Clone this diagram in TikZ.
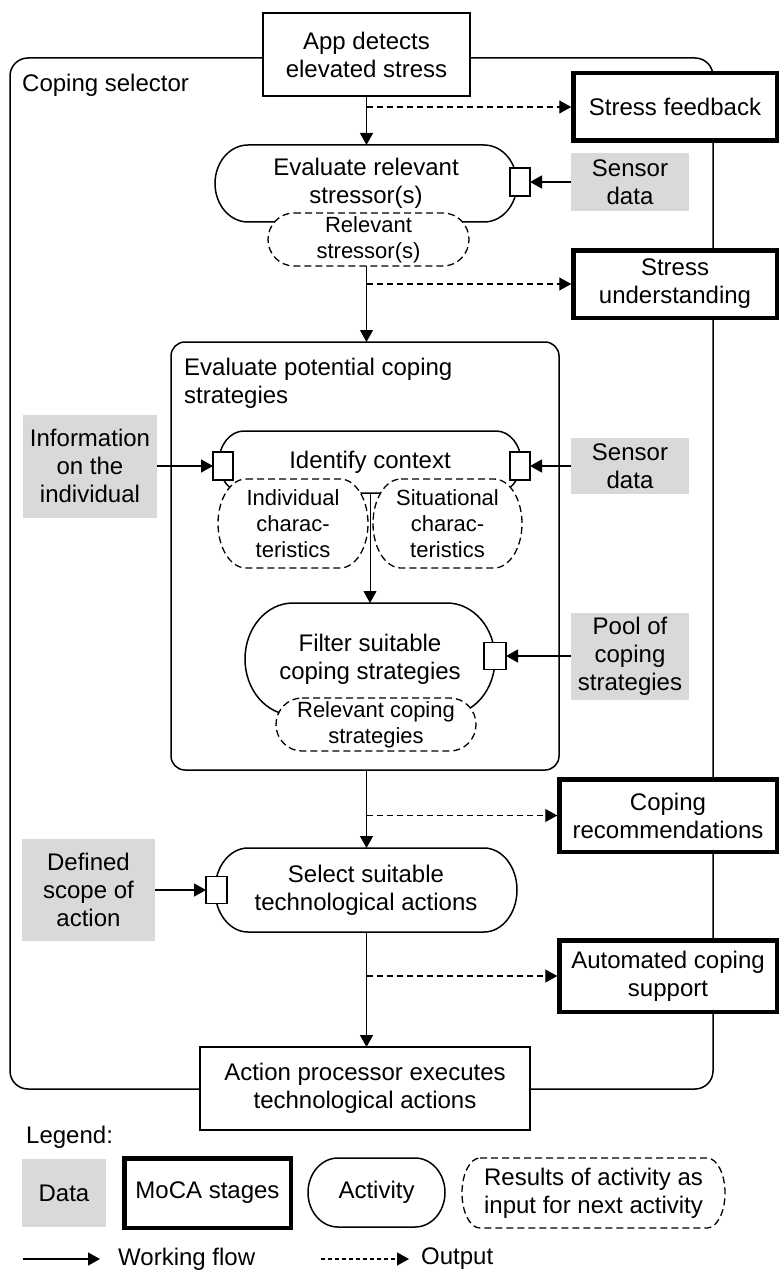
\documentclass[tikz,border=0pt]{standalone}
\usepackage{fontspec}
\setmainfont{Liberation Sans}
\usetikzlibrary{arrows.meta}
\definecolor{datagray}{RGB}{217,217,217}
\pgfdeclarelayer{background}
\pgfsetlayers{background,main}

% outline with half-elliptic ends around a named node:
% [style]{node}{end x radius}{end y radius}
\newcommand\capsule[4][]{%
  \path[#1] ([xshift=#3]#2.north west) -- ([xshift=-#3]#2.north east)
    arc[start angle=90,end angle=-90,x radius=#3,y radius=#4]
    -- ([xshift=#3]#2.south west)
    arc[start angle=270,end angle=90,x radius=#3,y radius=#4] -- cycle;}

\begin{document}
\begin{tikzpicture}[x=1pt,y=-1pt,
  txt/.style={font=\fontsize{24}{28}\selectfont, align=center, text=black},
  smalltxt/.style={font=\fontsize{22}{26}\selectfont, align=center, text=black},
  stagebox/.style={txt, draw, line width=1.5pt, fill=white, inner sep=0pt, outer sep=0pt},
  mocabox/.style={txt, draw, line width=4.5pt, fill=white, inner sep=0pt, outer sep=0pt},
  databox/.style={txt, fill=datagray, inner sep=0pt, outer sep=0pt},
  shapenode/.style={txt, inner sep=0pt, outer sep=0pt},
  resultnode/.style={smalltxt, inner sep=0pt, outer sep=0pt},
  pinbox/.style={draw, fill=white, line width=1.3pt, inner sep=0pt, outer sep=0pt,
    minimum width=20pt, minimum height=28pt},
  activityline/.style={draw, line width=1.5pt, fill=white},
  resultline/.style={draw, line width=1.3pt, fill=white, dash pattern=on 7pt off 4pt},
  flowarrow/.style={line width=1.3pt, -{Triangle[length=12pt,width=13pt]}},
  outarrow/.style={line width=1.3pt, dash pattern=on 6pt off 4pt, shorten >=2pt,
    -{Triangle[length=12pt,width=13pt]}},
  thinarrow/.style={line width=0.8pt, -{Triangle[length=12pt,width=13pt]}},
]
\useasboundingbox (0,0) rectangle (779,1273);

% coping selector frame
\begin{pgfonlayer}{background}
  \node[draw, line width=1.5pt, rounded corners=18pt, minimum width=703pt,
    minimum height=1031pt, inner sep=0pt, outer sep=0pt] (selector) at (361.5,573.5) {};
\end{pgfonlayer}
\node[txt, anchor=west, inner sep=0pt] (selectorlabel) at (22,85) {Coping selector};

% stress detection and evaluation
\node[stagebox, minimum width=207pt, minimum height=83pt] (app) at (366.5,54.5) {App detects\\elevated stress};
\node[mocabox, minimum width=203.5pt, minimum height=67.5pt] (feedback) at (675,107) {Stress feedback};
\node[shapenode, minimum width=302pt, minimum height=77pt] (evalrel) at (366,183.5) {Evaluate relevant\\stressor(s)};
\node[pinbox] (pinA) at (520,182) {};
\node[databox, minimum width=118pt, minimum height=58pt] (sensorA) at (630,182) {Sensor\\data};
\node[resultnode, minimum width=201pt, minimum height=53pt] (relstress) at (368.5,239.5) {Relevant\\stressor(s)};
\node[mocabox, minimum width=203.5pt, minimum height=67.5pt] (understanding) at (675,284) {Stress\\understanding};

% evaluation of potential coping strategies
\node[draw, line width=1.5pt, rounded corners=14pt, minimum width=388pt, minimum height=428pt,
  inner sep=0pt, outer sep=0pt] (evalpot) at (365,556) {};
\node[txt, align=left, anchor=north west, inner sep=0pt] (evalpotlabel) at (184,358) {Evaluate potential coping\\strategies};
\node[shapenode, minimum width=302pt, minimum height=62pt] (identify) at (370,462) {Identify context};
\node[pinbox] (pinB) at (223,466) {};
\node[pinbox] (pinC) at (520,466) {};
\node[databox, minimum width=134pt, minimum height=103pt] (info) at (90,466) {Information\\on the\\individual};
\node[databox, minimum width=118pt, minimum height=56pt] (sensorB) at (630,466) {Sensor\\data};
\node[resultnode, minimum width=150pt, minimum height=89pt] (indiv) at (293,523.5) {Individual\\charac-\\teristics};
\node[resultnode, minimum width=149pt, minimum height=89pt] (situ) at (447.5,523.5) {Situational\\charac-\\teristics};
\node[shapenode, minimum width=250pt, minimum height=112pt] (filter) at (370,659) {Filter suitable\\coping strategies};
\node[pinbox, minimum width=22pt, minimum height=27pt] (pinD) at (495,656) {};
\node[databox, minimum width=118pt, minimum height=87pt] (pool) at (630,656) {Pool of\\coping\\strategies};
\node[resultnode, minimum width=200pt, minimum height=53pt] (relcop) at (376,724.5) {Relevant coping\\strategies};

% recommendations and actions
\node[mocabox, minimum width=217.5pt, minimum height=72.5pt] (coprec) at (668,815.5) {Coping\\recommendations};
\node[shapenode, minimum width=302pt, minimum height=84pt] (select) at (366,890) {Select suitable\\technological actions};
\node[pinbox, minimum width=21pt, minimum height=27pt] (pinE) at (216.5,890) {};
\node[databox, minimum width=133pt, minimum height=102pt] (scope) at (88.5,890) {Defined\\scope of\\action};
\node[mocabox, minimum width=217.5pt, minimum height=71.5pt] (auto) at (668,976) {Automated coping\\support};
\node[stagebox, minimum width=330pt, minimum height=83pt] (action) at (365,1088.5) {Action processor executes\\technological actions};

% legend
\node[txt, anchor=west, inner sep=0pt] (legendlabel) at (26,1137) {Legend:};
\node[databox, minimum width=84pt, minimum height=68pt] (legdata) at (64,1193) {Data};
\node[mocabox, minimum width=166.5pt, minimum height=69.5pt] (legmoca) at (207.5,1193) {MoCA stages};
\node[shapenode, minimum width=137pt, minimum height=69pt] (legact) at (376.5,1192.5) {Activity};
\node[shapenode, minimum width=263pt, minimum height=70pt] (legres) at (593.5,1193) {Results of activity as\\input for next activity};
\coordinate (wfstart) at (23,1259);
\coordinate (wfend) at (100,1259);
\node[txt, anchor=west, inner sep=0pt] (wflabel) at (118,1259) {Working flow};
\coordinate (outstart) at (321,1259);
\coordinate (outend) at (409,1259);
\node[txt, anchor=west, inner sep=0pt] (outlabel) at (421,1259) {Output};

% activity and result outlines
\begin{pgfonlayer}{background}
  \capsule[activityline]{evalrel}{33pt}{38.5pt}
  \capsule[resultline]{relstress}{26pt}{26.5pt}
  \capsule[activityline]{identify}{25pt}{31pt}
  \capsule[resultline]{indiv}{28pt}{44.5pt}
  \capsule[resultline]{situ}{28pt}{44.5pt}
  \capsule[activityline]{filter}{48pt}{56pt}
  \capsule[resultline]{relcop}{26pt}{26.5pt}
  \capsule[activityline]{select}{33pt}{42pt}
  \capsule[activityline]{legact}{30pt}{34.5pt}
  \capsule[resultline]{legres}{18pt}{35pt}
\end{pgfonlayer}

% working flow
\draw[flowarrow] (app.south) -- (app.south |- evalrel.north);
\draw[flowarrow] (app.south |- relstress.south) -- (app.south |- evalpot.north);
\draw[flowarrow] (app.south |- evalpot.south) -- (app.south |- select.north);
\draw[flowarrow] (app.south |- select.south) -- (app.south |- action.north);
\draw[thinarrow] (identify.south) -- (filter.north);

% outputs
\draw[outarrow] (app.south |- feedback.west) -- (feedback.west);
\draw[outarrow] (app.south |- understanding.west) -- (understanding.west);
\draw[outarrow] (app.south |- coprec.west) -- (coprec.west);
\draw[outarrow] (app.south |- auto.west) -- (auto.west);

% data inputs
\draw[flowarrow] (sensorA.west) -- (pinA.east);
\draw[flowarrow] (info.east) -- (pinB.west);
\draw[flowarrow] (sensorB.west) -- (pinC.east);
\draw[flowarrow] (pool.west) -- (pinD.east);
\draw[flowarrow] (scope.east) -- (pinE.west);

% legend arrows
\draw[flowarrow] (wfstart) -- (wfend);
\draw[line width=1.2pt, dash pattern=on 4pt off 3pt, -{Triangle[length=12pt,width=13pt]}] (outstart) -- (outend);
\end{tikzpicture}
\end{document}
